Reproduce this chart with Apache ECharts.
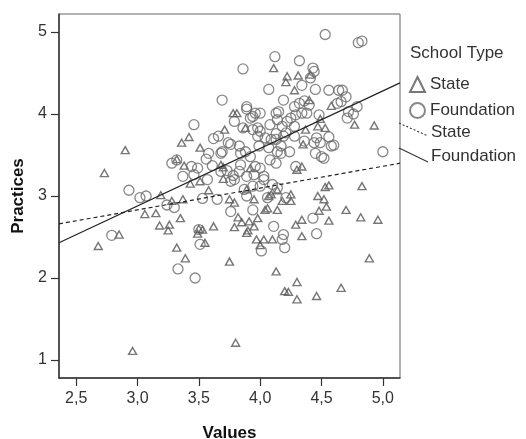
<!DOCTYPE html>
<html>
<head>
<meta charset="utf-8">
<script src="https://cdn.jsdelivr.net/npm/echarts@6/dist/echarts.min.js"></script>
<style>
html,body{margin:0;padding:0;background:#fff;}
#chart{width:526px;height:439px;}
</style>
</head>
<body>
<div id="chart"></div>
<script>
const xTicks = [2.5, 3.0, 3.5, 4.0, 4.5, 5.0];
const yTicks = [1, 2, 3, 4, 5];

const statePoints = [
[2.68,2.39],[2.73,3.28],[2.85,2.53],[2.90,3.56],[2.96,1.11],[3.06,2.78],[3.15,2.79],[3.19,3.01],[3.18,2.64],[3.25,2.58],
[3.26,2.65],[3.28,2.94],[3.32,2.37],[3.32,3.45],[3.35,2.73],[3.37,2.96],[3.36,3.65],[3.39,2.24],[3.38,3.37],[3.42,3.72],
[3.43,3.15],[3.49,2.54],[3.50,2.60],[3.51,3.18],[3.51,3.59],[3.53,2.59],[3.55,2.43],[3.58,3.07],[3.62,2.63],[3.68,3.38],
[3.71,3.81],[3.70,3.21],[3.75,2.96],[3.79,2.92],[3.75,2.20],[3.79,2.62],[3.78,4.01],[3.81,4.01],[3.80,1.21],[3.82,2.74],
[3.85,2.68],[3.89,2.55],[3.90,2.58],[3.91,2.69],[3.89,3.08],[3.92,3.34],[3.95,2.96],[3.95,2.63],[3.98,2.73],[3.97,2.47],
[4.03,2.47],[4.00,2.40],[4.04,2.83],[4.06,2.85],[4.07,3.00],[4.09,3.02],[4.11,4.56],[4.10,2.47],[4.13,2.08],[4.14,2.83],
[4.14,3.07],[4.18,2.94],[4.20,1.84],[4.23,1.83],[4.22,4.46],[4.21,4.39],[4.25,3.02],[4.25,2.94],[4.28,4.29],[4.29,2.65],
[4.30,3.32],[4.31,4.47],[4.30,1.74],[4.30,1.95],[4.34,2.71],[4.34,2.51],[4.34,3.36],[4.37,3.81],[4.40,4.17],[4.41,4.48],
[4.46,1.78],[4.47,3.00],[4.48,2.82],[4.47,3.85],[4.49,3.94],[4.53,3.83],[4.52,2.96],[4.54,2.87],[4.53,3.11],[4.56,3.13],
[4.56,2.70],[4.58,4.10],[4.66,1.88],[4.70,2.83],[4.77,3.87],[4.82,2.74],[4.83,3.12],[4.89,2.24],[4.93,3.86],[4.96,2.71],
[4.35,3.63],[3.88,3.83],[3.70,3.35]
];

const foundationPoints = [
[2.79,2.52],[2.93,3.07],[3.02,2.98],[3.07,3.00],[3.24,2.89],[3.30,2.86],[3.28,3.40],[3.33,2.11],[3.37,3.24],[3.44,3.36],
[3.46,3.87],[3.47,2.00],[3.49,3.34],[3.51,2.41],[3.50,2.59],[3.53,2.97],[3.57,3.20],[3.58,3.52],[3.56,3.45],[3.62,3.70],
[3.61,3.37],[3.65,2.96],[3.66,3.73],[3.68,3.52],[3.69,4.17],[3.73,3.31],[3.76,3.63],[3.76,2.81],[3.79,3.91],[3.78,3.25],
[3.79,3.20],[3.83,3.61],[3.84,3.38],[3.86,4.55],[3.86,3.83],[3.88,3.54],[3.89,4.06],[3.89,3.24],[3.89,3.00],[3.92,3.95],
[3.92,3.48],[3.94,2.83],[3.96,4.01],[3.98,3.83],[3.98,3.73],[3.99,3.61],[4.00,4.01],[4.00,3.34],[4.01,2.33],[4.03,3.24],
[4.04,3.71],[4.06,2.98],[4.07,4.30],[4.08,3.87],[4.09,3.69],[4.10,3.14],[4.11,2.63],[4.12,4.70],[4.13,4.01],[4.13,3.40],
[4.13,3.76],[4.17,3.61],[4.17,3.52],[4.18,2.47],[4.19,2.53],[4.19,4.17],[4.20,2.37],[4.21,2.98],[4.21,3.77],[4.24,3.54],
[4.25,3.95],[4.28,4.09],[4.28,3.85],[4.29,3.36],[4.32,4.13],[4.32,4.65],[4.34,4.35],[4.34,4.01],[4.36,3.67],[4.38,4.01],
[4.41,4.44],[4.43,4.56],[4.44,4.52],[4.43,2.73],[4.45,4.30],[4.45,3.52],[4.46,2.54],[4.46,3.71],[4.48,3.99],[4.49,3.65],
[4.50,3.48],[4.53,4.97],[4.56,4.29],[4.56,3.72],[4.58,3.61],[4.60,3.62],[4.63,4.13],[4.64,4.29],[4.70,4.21],[4.71,3.95],
[4.72,4.03],[4.76,4.00],[4.79,4.09],[4.80,4.87],[4.83,4.89],[5.00,3.54],
[3.89,4.09],[3.94,3.97],[4.15,4.03],[4.40,4.11],[4.29,3.99],[4.22,3.91],[4.14,3.93],[4.18,3.85],[3.94,3.81],[4.00,3.79],
[4.13,3.69],[4.19,3.73],[4.28,3.73],[4.07,3.59],[4.14,3.54],[4.44,3.65],[4.52,3.46],[4.08,3.44],[3.96,3.36],[3.95,3.26],
[4.03,3.20],[3.74,3.65],[3.84,3.52],[3.69,3.54],[3.32,3.44],[3.46,3.26],[3.68,3.30],[3.83,3.30],[3.76,3.18],[3.87,3.08],
[3.94,3.12],[4.00,3.12],[4.14,3.10],[4.67,4.29],[4.66,4.15],[4.36,4.16]
];

const stateFit = [[2.36, 2.66], [5.14, 3.40]];
const foundationFit = [[2.36, 2.43], [5.14, 4.38]];

const legendTitle = 'School Type';
const seriesNames = ['State', 'Foundation'];

const chart = echarts.init(document.getElementById('chart'), null, {renderer: 'canvas'});
const textColor = '#333';
const fontFam = '"Liberation Sans", Arial, sans-serif';

chart.setOption({
  backgroundColor: '#fff',
  animation: false,
  grid: {left: 59, top: 14, width: 341, height: 364, containLabel: false, outerBoundsMode: 'none',
    show: true, borderColor: '#666', borderWidth: 1, backgroundColor: 'transparent'},
  xAxis: {
    type: 'value', min: 2.36, max: 5.14,
    name: 'Values', nameLocation: 'middle', nameGap: 47,
    nameTextStyle: {fontFamily: fontFam, fontSize: 17, fontWeight: 'bold', color: '#111'},
    axisLine: {show: true, lineStyle: {color: '#333', width: 1.5}},
    axisTick: {show: true, inside: false, length: 8, customValues: xTicks, lineStyle: {color: '#333', width: 1.2}},
    axisLabel: {customValues: xTicks, margin: 13, fontFamily: fontFam, fontSize: 16, color: textColor,
      formatter: v => v.toFixed(1).replace('.', ',')},
    splitLine: {show: false}
  },
  yAxis: {
    type: 'value', min: 0.78, max: 5.22,
    name: 'Practices', nameLocation: 'middle', nameGap: 30, nameRotate: 90,
    nameTextStyle: {fontFamily: fontFam, fontSize: 17, fontWeight: 'bold', color: '#111'},
    axisLine: {show: true, lineStyle: {color: '#333', width: 1.5}},
    axisTick: {show: true, inside: false, length: 8, customValues: yTicks, lineStyle: {color: '#333', width: 1.2}},
    axisLabel: {customValues: yTicks, margin: 12, fontFamily: fontFam, fontSize: 16, color: textColor,
      formatter: v => String(Math.round(v))},
    splitLine: {show: false}
  },
  legend: {
    data: seriesNames,
    orient: 'vertical', left: 404, top: 71, padding: 5,
    itemWidth: 15, itemHeight: 15, itemGap: 9,
    textStyle: {fontFamily: fontFam, fontSize: 17, color: textColor},
    selectedMode: false
  },
  graphic: [
    {type: 'text', left: 410, top: 45, style: {text: legendTitle, fontFamily: fontFam, fontSize: 17, fill: textColor}},
    {type: 'line', shape: {x1: 399, y1: 123, x2: 428, y2: 136}, style: {stroke: '#333', lineWidth: 1.1, lineDash: [2, 2]}},
    {type: 'text', left: 431, top: 124, style: {text: seriesNames[0], fontFamily: fontFam, fontSize: 17, fill: textColor}},
    {type: 'line', shape: {x1: 399, y1: 148, x2: 428, y2: 162}, style: {stroke: '#333', lineWidth: 1.1}},
    {type: 'text', left: 431, top: 148, style: {text: seriesNames[1], fontFamily: fontFam, fontSize: 17, fill: textColor}}
  ],
  series: [
    {
      name: seriesNames[0], type: 'scatter', data: statePoints,
      symbol: 'triangle', symbolSize: [8, 7],
      itemStyle: {color: 'rgba(255,255,255,0)', borderColor: '#555', borderWidth: 1.4},
      z: 2
    },
    {
      name: seriesNames[1], type: 'scatter', data: foundationPoints,
      symbol: 'circle', symbolSize: 10,
      itemStyle: {color: 'rgba(255,255,255,0)', borderColor: '#6a6a6a', borderWidth: 1.3},
      z: 2
    },
    {
      name: 'State fit', type: 'line', data: stateFit, showSymbol: false, symbol: 'none',
      lineStyle: {color: '#222', width: 1.2, type: [4, 3]}, z: 5, silent: true
    },
    {
      name: 'Foundation fit', type: 'line', data: foundationFit, showSymbol: false, symbol: 'none',
      lineStyle: {color: '#222', width: 1.2}, z: 5, silent: true
    }
  ]
});
</script>
</body>
</html>
